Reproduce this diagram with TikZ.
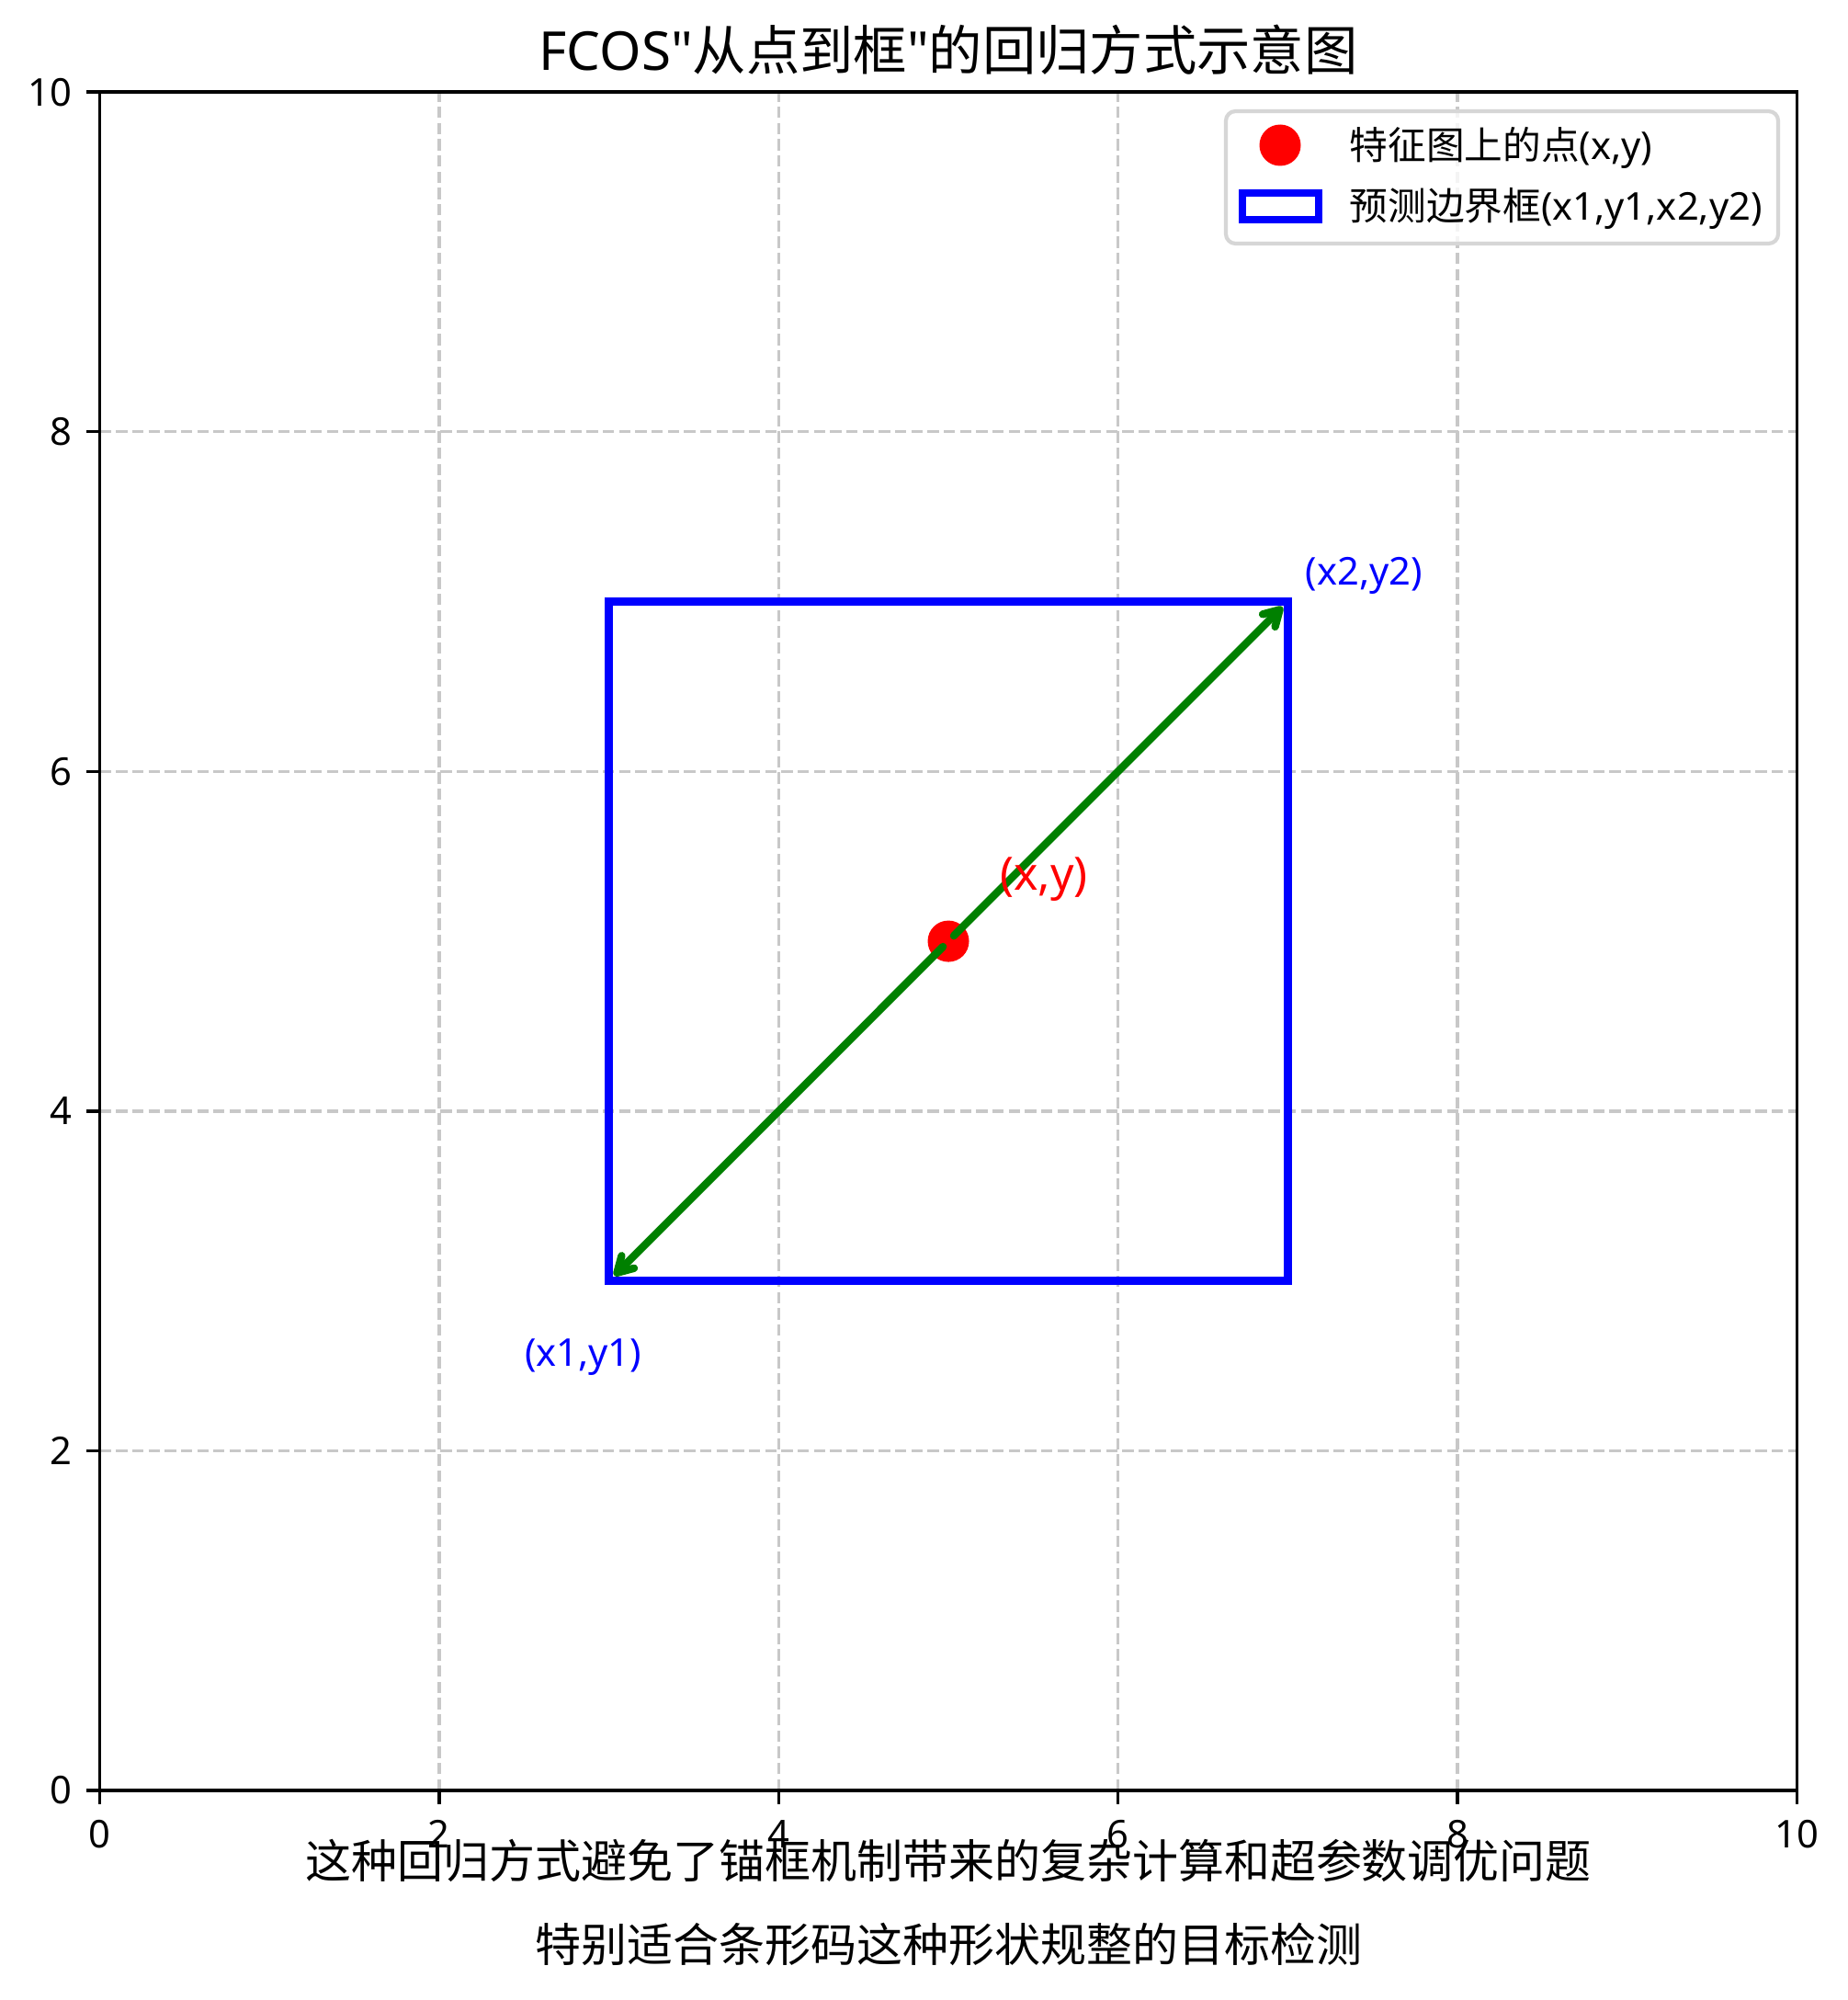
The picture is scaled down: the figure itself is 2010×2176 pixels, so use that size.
\documentclass[tikz,border=0pt]{standalone}
\usepackage{fontspec}
\setmainfont{Noto Sans CJK SC}
\newfontfamily\lat{Noto Sans}
\usetikzlibrary{arrows.meta}
\definecolor{gridc}{HTML}{C8C8C8}
\definecolor{legedge}{HTML}{D6D6D6}
\definecolor{mplgreen}{HTML}{008000}
\definecolor{mplblue}{HTML}{0000FF}
\definecolor{mplred}{HTML}{FF0000}
\tikzset{
  gridline/.style={draw=gridc, line width=0.8pt, dash pattern=on 2.96pt off 1.28pt},
  spine/.style={draw=black, line width=0.8pt, line cap=rect},
  tickmark/.style={draw=black, line width=0.8pt},
  ticklab/.style={inner sep=0pt, font=\lat\fontsize{10}{12}\selectfont},
  boxline/.style={draw=mplblue, line width=2pt, line join=miter},
  dot/.style={circle, fill=mplred, inner sep=0pt, minimum size=10.8pt},
  garrow/.style={draw=mplgreen, line width=2pt, line cap=round,
    -{Straight Barb[length=4pt, width=4.6pt, round]}, shorten <=2pt, shorten >=2pt},
  bluelab/.style={text=mplblue, inner sep=0pt, anchor=base west, font=\lat\fontsize{10}{12}\selectfont},
  redlab/.style={text=mplred, inner sep=0pt, anchor=base west, font=\lat\fontsize{12}{14}\selectfont},
  legframe/.style={draw=legedge, fill=white, fill opacity=0.8, line width=1pt, rounded corners=2.5pt},
  legtext/.style={inner sep=0pt, anchor=base west, font=\fontsize{10}{12}\selectfont},
  titletext/.style={inner sep=0pt, anchor=base, font=\fontsize{14}{17}\selectfont},
  notetext/.style={inner sep=0pt, anchor=base, font=\fontsize{12}{14}\selectfont},
}
\begin{document}
\begin{tikzpicture}[x=0.24pt, y=-0.24pt]
\useasboundingbox (0,0) rectangle (2010,2176);
\fill[white] (0,0) rectangle (2010,2176);

% data area
\begin{scope}[shift={(108.5,1948)}, x=44.33pt, y=44.35pt]
  \foreach \v in {2,4,6,8} {
    \draw[gridline] (\v,0) -- (\v,10);
    \draw[gridline] (0,\v) -- (10,\v);
  }
  \draw[boxline] (3,3) rectangle (7,7);
  \coordinate (c1) at (3,3);
  \coordinate (c2) at (7,7);
  \node[dot] (p) at (5,5) {};
  \draw[garrow] (p.center) -- (c2);
  \draw[garrow] (p.center) -- (c1);
  \node[redlab] (lxy) at (5.3,5.3) {(x,y)};
  \node[bluelab] (lx2) at (7.1,7.1) {(x2,y2)};
  \node[bluelab] (lx1) at (2.5,2.5) {(x1,y1)};
  % spines
  \draw[spine] (0,0) rectangle (10,10);
  % ticks
  \foreach \v in {0,2,4,6,8,10} {
    \draw[tickmark] (\v,0) -- ++(0,-3.5pt);
    \draw[tickmark] (0,\v) -- ++(-3.5pt,0);
    \node[ticklab, anchor=north] (xt\v) at ([yshift=-7.6pt]\v,0) {\v};
    \node[ticklab, anchor=east] (yt\v) at ([xshift=-7pt]0,\v) {\v};
  }
\end{scope}

% title
\node[titletext] (title) at (1032,77) {{\lat FCOS"}从点到框{\lat "}的回归方式示意图};

% legend
\draw[legframe] (1334,121) rectangle (1935,265);
\node[dot] (legdot) at (1393,158) {};
\draw[boxline] (1352,210) rectangle (1435,239);
\node[legtext] (legt1) at (1468,174) {特征图上的点{\lat (x,y)}};
\node[legtext] (legt2) at (1468,240) {预测边界框{\lat (x1,y1,x2,y2)}};

% bottom notes
\node[notetext] (note1) at (1032,2043) {这种回归方式避免了锚框机制带来的复杂计算和超参数调优问题};
\node[notetext] (note2) at (1032,2134) {特别适合条形码这种形状规整的目标检测};
\end{tikzpicture}
\end{document}
